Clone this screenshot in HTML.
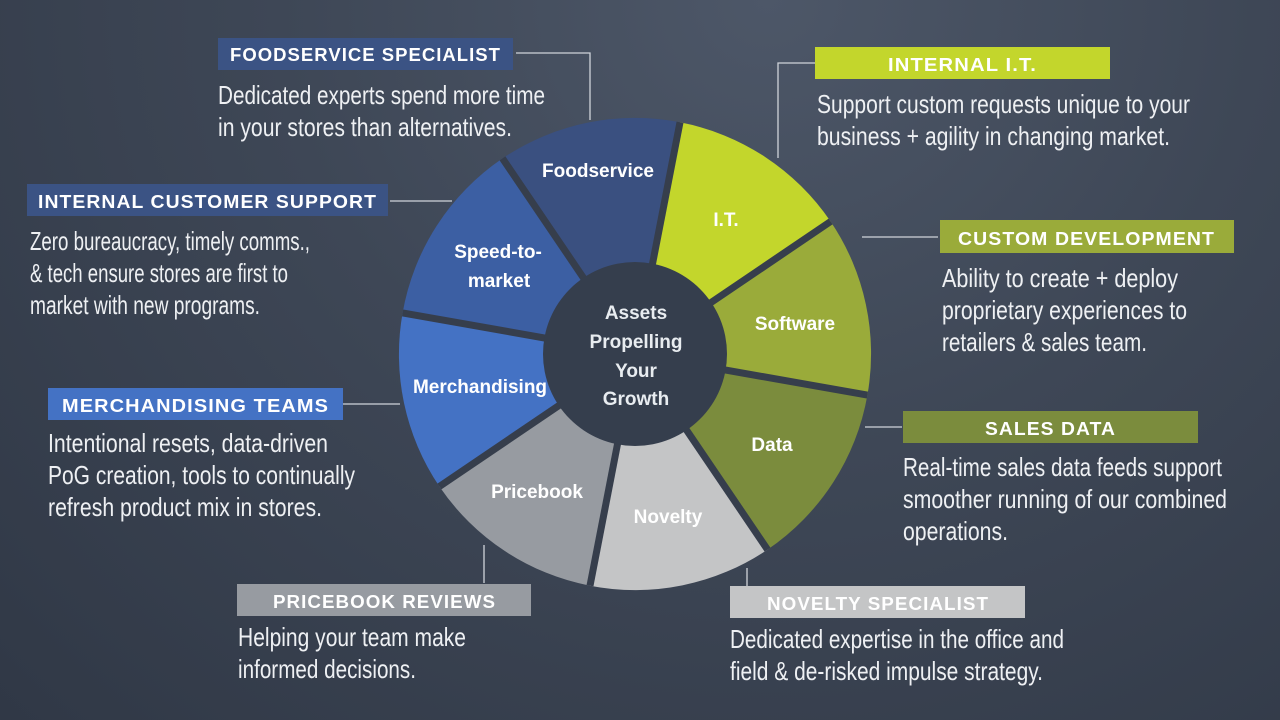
<!DOCTYPE html>
<html><head><meta charset="utf-8"><style>
html,body{margin:0;padding:0;width:1280px;height:720px;overflow:hidden}
body{background:radial-gradient(ellipse at 60% 0%,#4d5768 0%,#3e4756 45%,#303846 100%)}
svg{display:block}
.h{font-family:"Liberation Sans",sans-serif;font-weight:bold;font-size:18px;fill:#fff;letter-spacing:1px}
.b{font-family:"Liberation Sans",sans-serif;font-size:26px;fill:#eef0f3}
.l{font-family:"Liberation Sans",sans-serif;font-weight:bold;font-size:19px;fill:#fff;text-anchor:middle}
.c{font-family:"Liberation Sans",sans-serif;font-weight:bold;font-size:19px;fill:#e8ecf0;text-anchor:middle}
.ln{stroke:#d0d4da;stroke-width:1.3;fill:none}
</style></head><body>
<svg width="1280" height="720" viewBox="0 0 1280 720" xmlns="http://www.w3.org/2000/svg">
<g>
<path d="M635,354 L680.0,122.3 A236,236 0 0 1 830.6,221.5 Z" fill="#c3d62c"/>
<path d="M635,354 L830.6,221.5 A236,236 0 0 1 867.4,395.1 Z" fill="#9aab3a"/>
<path d="M635,354 L867.4,395.1 A236,236 0 0 1 767.5,549.6 Z" fill="#7b8c3d"/>
<path d="M635,354 L767.5,549.6 A236,236 0 0 1 590.0,585.7 Z" fill="#c4c5c6"/>
<path d="M635,354 L590.0,585.7 A236,236 0 0 1 439.4,486.5 Z" fill="#979ba1"/>
<path d="M635,354 L439.4,486.5 A236,236 0 0 1 402.6,312.9 Z" fill="#4472c4"/>
<path d="M635,354 L402.6,312.9 A236,236 0 0 1 502.5,158.4 Z" fill="#3c5fa3"/>
<path d="M635,354 L502.5,158.4 A236,236 0 0 1 680.0,122.3 Z" fill="#3a5080"/>
</g>
<g stroke="#363e4c" stroke-width="7">
<line x1="635" y1="354" x2="680.0" y2="122.3"/>
<line x1="635" y1="354" x2="830.6" y2="221.5"/>
<line x1="635" y1="354" x2="867.4" y2="395.1"/>
<line x1="635" y1="354" x2="767.5" y2="549.6"/>
<line x1="635" y1="354" x2="590.0" y2="585.7"/>
<line x1="635" y1="354" x2="439.4" y2="486.5"/>
<line x1="635" y1="354" x2="402.6" y2="312.9"/>
<line x1="635" y1="354" x2="502.5" y2="158.4"/>
</g>
<circle cx="635" cy="354" r="92" fill="#353e4d"/>
<text class="l" x="598" y="177">Foodservice</text>
<text class="l" x="726" y="226">I.T.</text>
<text class="l" x="795" y="330">Software</text>
<text class="l" x="772" y="451">Data</text>
<text class="l" x="668" y="523">Novelty</text>
<text class="l" x="537" y="498">Pricebook</text>
<text class="l" x="480" y="393">Merchandising</text>
<text class="l" x="498" y="258">Speed-to-</text>
<text class="l" x="499" y="287">market</text>
<text class="c" x="636" y="319">Assets</text>
<text class="c" x="636" y="348">Propelling</text>
<text class="c" x="636" y="377">Your</text>
<text class="c" x="636" y="405">Growth</text>

<path class="ln" d="M516,53 H590 V120"/>
<path class="ln" d="M390,201 H452"/>
<path class="ln" d="M815,63 H778 V158"/>
<path class="ln" d="M862,237 H938"/>
<path class="ln" d="M343,404 H400"/>
<path class="ln" d="M865,427 H902"/>
<path class="ln" d="M484,545 V583"/>
<path class="ln" d="M747,568 V586"/>

<rect x="218" y="38" width="295" height="32" fill="#3b5384"/>
<text class="h" x="230" y="61" textLength="271" lengthAdjust="spacingAndGlyphs">FOODSERVICE SPECIALIST</text>
<rect x="27" y="184" width="361" height="32" fill="#3b5384"/>
<text class="h" x="38" y="208" textLength="339" lengthAdjust="spacingAndGlyphs">INTERNAL CUSTOMER SUPPORT</text>
<rect x="815" y="47" width="295" height="32" fill="#c3d62c"/>
<text class="h" x="888" y="71" textLength="149" lengthAdjust="spacingAndGlyphs">INTERNAL I.T.</text>
<rect x="940" y="220" width="294" height="33" fill="#9aab3a"/>
<text class="h" x="958" y="245" textLength="257" lengthAdjust="spacingAndGlyphs">CUSTOM DEVELOPMENT</text>
<rect x="48" y="388" width="295" height="32" fill="#4472c4"/>
<text class="h" x="62" y="412" textLength="267" lengthAdjust="spacingAndGlyphs">MERCHANDISING TEAMS</text>
<rect x="903" y="411" width="295" height="32" fill="#7b8c3d"/>
<text class="h" x="985" y="435" textLength="131" lengthAdjust="spacingAndGlyphs">SALES DATA</text>
<rect x="237" y="584" width="294" height="32" fill="#979ba1"/>
<text class="h" x="273" y="608" textLength="223" lengthAdjust="spacingAndGlyphs">PRICEBOOK REVIEWS</text>
<rect x="730" y="586" width="295" height="32" fill="#c4c5c6"/>
<text class="h" x="767" y="610" textLength="222" lengthAdjust="spacingAndGlyphs">NOVELTY SPECIALIST</text>

<text class="b" x="218" y="104" textLength="327" lengthAdjust="spacingAndGlyphs">Dedicated experts spend more time</text>
<text class="b" x="218" y="136" textLength="294" lengthAdjust="spacingAndGlyphs">in your stores than alternatives.</text>
<text class="b" x="30" y="250" textLength="280" lengthAdjust="spacingAndGlyphs">Zero bureaucracy, timely comms.,</text>
<text class="b" x="30" y="282" textLength="258" lengthAdjust="spacingAndGlyphs">&amp; tech ensure stores are first to</text>
<text class="b" x="30" y="314" textLength="230" lengthAdjust="spacingAndGlyphs">market with new programs.</text>
<text class="b" x="817" y="113" textLength="373" lengthAdjust="spacingAndGlyphs">Support custom requests unique to your</text>
<text class="b" x="817" y="145" textLength="353" lengthAdjust="spacingAndGlyphs">business + agility in changing market.</text>
<text class="b" x="942" y="287" textLength="236" lengthAdjust="spacingAndGlyphs">Ability to create + deploy</text>
<text class="b" x="942" y="319" textLength="245" lengthAdjust="spacingAndGlyphs">proprietary experiences to</text>
<text class="b" x="942" y="351" textLength="205" lengthAdjust="spacingAndGlyphs">retailers &amp; sales team.</text>
<text class="b" x="48" y="452" textLength="280" lengthAdjust="spacingAndGlyphs">Intentional resets, data-driven</text>
<text class="b" x="48" y="484" textLength="307" lengthAdjust="spacingAndGlyphs">PoG creation, tools to continually</text>
<text class="b" x="48" y="516" textLength="274" lengthAdjust="spacingAndGlyphs">refresh product mix in stores.</text>
<text class="b" x="903" y="476" textLength="319" lengthAdjust="spacingAndGlyphs">Real-time sales data feeds support</text>
<text class="b" x="903" y="508" textLength="324" lengthAdjust="spacingAndGlyphs">smoother running of our combined</text>
<text class="b" x="903" y="540" textLength="105" lengthAdjust="spacingAndGlyphs">operations.</text>
<text class="b" x="238" y="646" textLength="228" lengthAdjust="spacingAndGlyphs">Helping your team make</text>
<text class="b" x="238" y="678" textLength="178" lengthAdjust="spacingAndGlyphs">informed decisions.</text>
<text class="b" x="730" y="648" textLength="334" lengthAdjust="spacingAndGlyphs">Dedicated expertise in the office and</text>
<text class="b" x="730" y="680" textLength="313" lengthAdjust="spacingAndGlyphs">field &amp; de-risked impulse strategy.</text>
</svg>
</body></html>
